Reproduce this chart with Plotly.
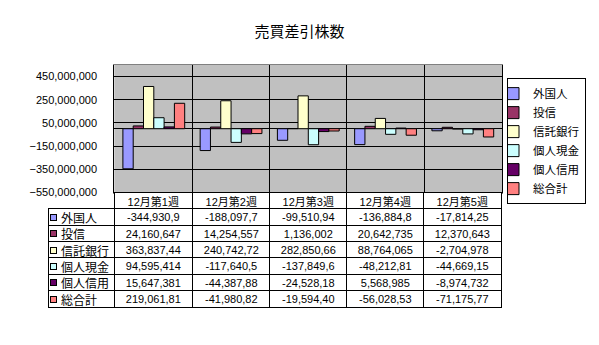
import plotly.graph_objects as go

W, H = 599, 345
FONT = "Liberation Sans, Noto Sans CJK JP"
CJK = "Noto Sans CJK JP"

categories = ["12月第1週", "12月第2週", "12月第3週", "12月第4週", "12月第5週"]
series_names = ["外国人", "投信", "信託銀行", "個人現金", "個人信用", "総合計"]
series_colors = ["#9999FF", "#993366", "#FFFFCC", "#CCFFFF", "#660066", "#FF8080"]

gaikokujin = [-344930900, -188097700, -99510940, -136884800, -17814250]
toushin = [24160647, 14254557, 1136002, 20642735, 12370643]
shintaku = [363837440, 240742720, 282850660, 88764065, -2704978]
kojin_genkin = [94595414, -117640500, -137849600, -48212810, -44669150]
kojin_shinyou = [15647381, -44387880, -24528180, 5568985, -8974732]
sougoukei = [219061810, -41980820, -19594400, -56028530, -71175770]

series_values = [gaikokujin, toushin, shintaku, kojin_genkin, kojin_shinyou, sougoukei]

y_tickvals = [-550000000, -350000000, -150000000, 50000000, 250000000, 450000000]
y_range = [-550000000, 550000000]

# layout geometry (pixels)
plot_l, plot_r, plot_t, plot_b = 114.3, 502.3, 66.0, 196.0
tab_l = 48.3
head_b = 213.0
row_h = 16.6
col_w = (plot_r - plot_l) / len(categories)

fig = go.Figure()

for name, color, vals in zip(series_names, series_colors, series_values):
    fig.add_trace(go.Bar(
        x=categories, y=vals, name=name,
        marker=dict(color=color, line=dict(color="black", width=1)),
    ))

# ---- data table (cells as bordered annotations, columns on the category axis)
def cell_text(v):
    return f"{v:,}"[:10]

annotations = []
head_cy = 1 - (plot_b + head_b) / 2 / H
for cat in categories:
    annotations.append(dict(
        xref="x", yref="paper", x=cat, y=head_cy, xanchor="center", yanchor="middle",
        text=cat, showarrow=False, width=col_w - 1, height=(head_b - plot_b) - 1,
        bordercolor="black", borderwidth=1, borderpad=0, bgcolor="white",
        font=dict(family=FONT, size=11, color="black"), align="center",
    ))
for r, (name, color, vals) in enumerate(zip(series_names, series_colors, series_values)):
    cy = 1 - (head_b + row_h * (r + 0.5)) / H
    # label cell box
    annotations.append(dict(
        xref="paper", yref="paper", x=(tab_l + plot_l) / 2 / W, y=cy,
        xanchor="center", yanchor="middle",
        text=" ", showarrow=False,
        width=(plot_l - tab_l) - 1, height=row_h - 1,
        bordercolor="black", borderwidth=1, borderpad=0, bgcolor="white",
    ))
    # legend key in the label cell
    annotations.append(dict(
        xref="paper", yref="paper", x=(tab_l + 2) / W, y=cy,
        xanchor="left", yanchor="middle",
        text=" ", showarrow=False, width=5, height=5,
        bordercolor="black", borderwidth=1, borderpad=0, bgcolor=color,
    ))
    # label text
    annotations.append(dict(
        xref="paper", yref="paper", x=(tab_l + 12) / W, y=cy,
        xanchor="left", yanchor="middle",
        text=name, showarrow=False, borderpad=0,
        font=dict(family=CJK, size=12, color="black"), align="left",
    ))
    for cat, v in zip(categories, vals):
        annotations.append(dict(
            xref="x", yref="paper", x=cat, y=cy, xanchor="center", yanchor="middle",
            text=cell_text(v), showarrow=False, width=col_w - 1, height=row_h - 1,
            bordercolor="black", borderwidth=1, borderpad=0, bgcolor="white",
            font=dict(family=FONT, size=11, color="black"), align="center",
        ))

fig.update_layout(
    width=W, height=H,
    margin=dict(l=0, r=0, t=0, b=0),
    paper_bgcolor="white",
    plot_bgcolor="#C0C0C0",
    font=dict(family=FONT, size=11, color="black"),
    title=dict(text="売買差引株数", x=0.5, xanchor="center", y=1 - 31.7 / H, yanchor="middle",
               font=dict(family=CJK, size=15, color="black")),
    barmode="group",
    bargap=0.2,
    bargroupgap=0,
    xaxis=dict(
        domain=[plot_l / W, plot_r / W],
        type="category",
        showticklabels=False,
        showgrid=True, gridcolor="black", gridwidth=1,
        tickson="boundaries",
        ticks="",
        showline=True, linecolor="#808080", mirror=True,
    ),
    yaxis=dict(
        domain=[1 - plot_b / H, 1 - plot_t / H],
        range=y_range,
        tickvals=y_tickvals,
        tickformat=",",
        showgrid=True, gridcolor="black", gridwidth=1,
        zeroline=True, zerolinecolor="black", zerolinewidth=1,
        showline=True, linecolor="black", mirror=True,
        ticks="",
        ticklabelstandoff=14,
        tickfont=dict(family=FONT, size=11, color="black"),
    ),
    legend=dict(
        x=507 / W, y=1 - 79.5 / H, xanchor="left", yanchor="top",
        bordercolor="black", borderwidth=1, bgcolor="white",
        font=dict(family=CJK, size=11.5, color="black"),
        tracegroupgap=0,
        indentation=-15,
    ),
    annotations=annotations,
    showlegend=True,
)

fig.write_html("out.html")
